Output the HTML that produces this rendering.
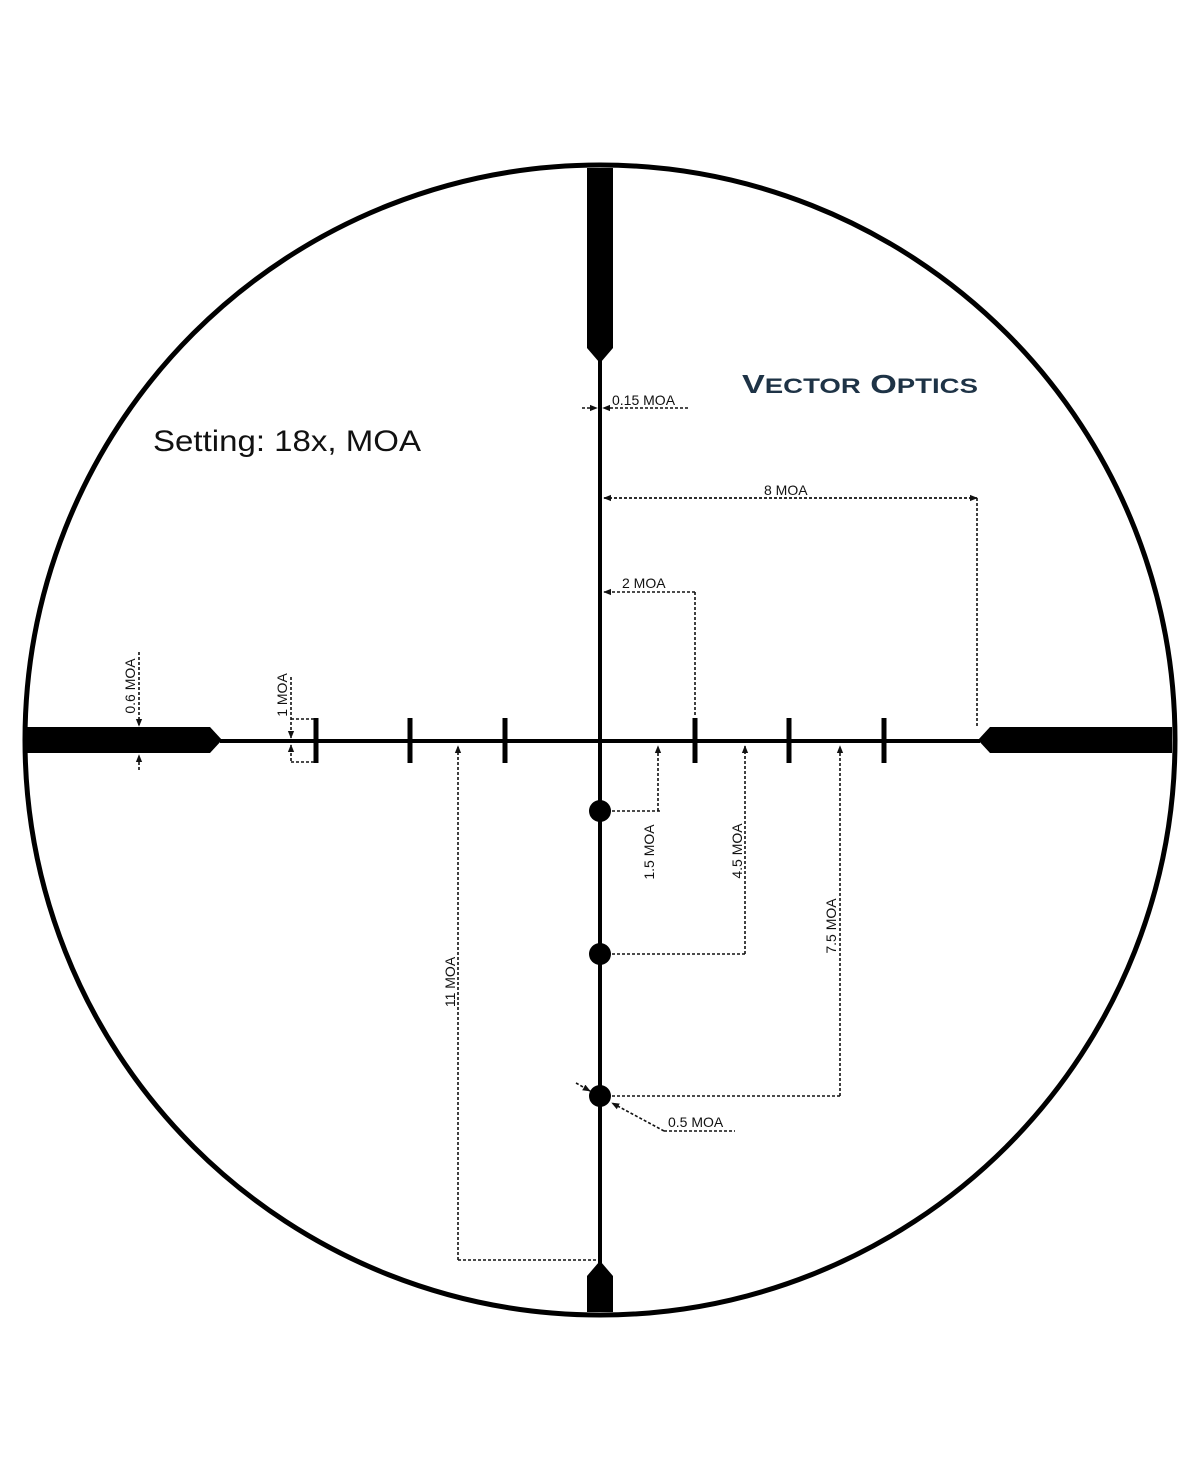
<!DOCTYPE html>
<html><head><meta charset="utf-8"><style>body{margin:0;background:#fff}svg{display:block}text{font-family:"Liberation Sans",sans-serif;fill:#111}</style></head>
<body>
<svg width="1200" height="1482" viewBox="0 0 1200 1482" xmlns="http://www.w3.org/2000/svg">
<defs>
<marker id="a" viewBox="0 0 10 10" refX="9" refY="5" markerWidth="5" markerHeight="5" orient="auto"><path d="M0,1 L10,5 L0,9z" fill="#111"/></marker>
</defs>
<circle cx="600" cy="740" r="575" fill="none" stroke="#000" stroke-width="5"/>
<path d="M27,727 H210 L222,740 L210,753 H27z" fill="#000"/>
<path d="M1172,727 H990 L978,740 L990,753 H1172z" fill="#000"/>
<path d="M587,168 H613 V348 L601,362 L599,362 L587,348z" fill="#000"/>
<path d="M587,1312 H613 V1276 L601,1262 L599,1262 L587,1276z" fill="#000"/>
<line x1="220" y1="741" x2="980" y2="741" stroke="#000" stroke-width="4"/>
<line x1="600" y1="360" x2="600" y2="1264" stroke="#000" stroke-width="4"/>
<g stroke="#000" stroke-width="5">
<line x1="316" y1="718" x2="316" y2="763"/><line x1="410" y1="718" x2="410" y2="763"/><line x1="505" y1="718" x2="505" y2="763"/>
<line x1="695" y1="718" x2="695" y2="763"/><line x1="789" y1="718" x2="789" y2="763"/><line x1="884" y1="718" x2="884" y2="763"/>
</g>
<circle cx="600" cy="811" r="11" fill="#000"/><circle cx="600" cy="954" r="11" fill="#000"/><circle cx="600" cy="1096" r="11" fill="#000"/>
<g stroke="#111" stroke-width="1.6" stroke-dasharray="3,2" fill="none">
<line x1="977" y1="498" x2="604" y2="498" marker-end="url(#a)"/>
<line x1="604" y1="498" x2="977" y2="498" marker-end="url(#a)"/>
<line x1="977" y1="498" x2="977" y2="728"/>
<line x1="695" y1="592" x2="604" y2="592" marker-end="url(#a)"/><line x1="695" y1="592" x2="695" y2="715"/>
<line x1="582" y1="408" x2="597" y2="408" marker-end="url(#a)"/>
<line x1="688" y1="408" x2="603" y2="408" marker-end="url(#a)"/>
<line x1="139" y1="652" x2="139" y2="726" marker-end="url(#a)"/>
<line x1="139" y1="770" x2="139" y2="755" marker-end="url(#a)"/>
<line x1="291" y1="677" x2="291" y2="738" marker-end="url(#a)"/>
<line x1="291" y1="761" x2="291" y2="745" marker-end="url(#a)"/>
<line x1="291" y1="719" x2="316" y2="719"/><line x1="291" y1="762" x2="316" y2="762"/>
<line x1="658" y1="811" x2="658" y2="746" marker-end="url(#a)"/><line x1="612" y1="811" x2="660" y2="811"/>
<line x1="745" y1="954" x2="745" y2="746" marker-end="url(#a)"/><line x1="612" y1="954" x2="745" y2="954"/>
<line x1="840" y1="1096" x2="840" y2="746" marker-end="url(#a)"/><line x1="612" y1="1096" x2="840" y2="1096"/>
<line x1="458" y1="1260" x2="458" y2="746" marker-end="url(#a)"/><line x1="458" y1="1260" x2="596" y2="1260"/>
<line x1="576" y1="1083" x2="590" y2="1091" marker-end="url(#a)"/>
<line x1="664" y1="1131" x2="612" y2="1103" marker-end="url(#a)"/>
<line x1="664" y1="1131" x2="735" y2="1131"/>
</g>
<g font-size="14">
<text x="612" y="405">0.15 MOA</text>
<text x="764" y="495">8 MOA</text>
<text x="622" y="588">2 MOA</text>
<text x="668" y="1127">0.5 MOA</text>
<text transform="translate(135,686) rotate(-90)" text-anchor="middle">0.6 MOA</text>
<text transform="translate(287,695) rotate(-90)" text-anchor="middle">1 MOA</text>
<text transform="translate(654,852) rotate(-90)" text-anchor="middle">1.5 MOA</text>
<text transform="translate(742,851) rotate(-90)" text-anchor="middle">4.5 MOA</text>
<text transform="translate(836,926) rotate(-90)" text-anchor="middle">7.5 MOA</text>
<text transform="translate(455,982) rotate(-90)" text-anchor="middle">11 MOA</text>
</g>
<text x="153" y="451" font-size="30" textLength="268" lengthAdjust="spacingAndGlyphs">Setting: 18x, MOA</text>
<text x="742" y="393" font-size="26" font-weight="bold" style="fill:#1e3346" textLength="236" lengthAdjust="spacingAndGlyphs">V<tspan font-size="21">ECTOR</tspan> O<tspan font-size="21">PTICS</tspan></text>
</svg>
</body></html>
